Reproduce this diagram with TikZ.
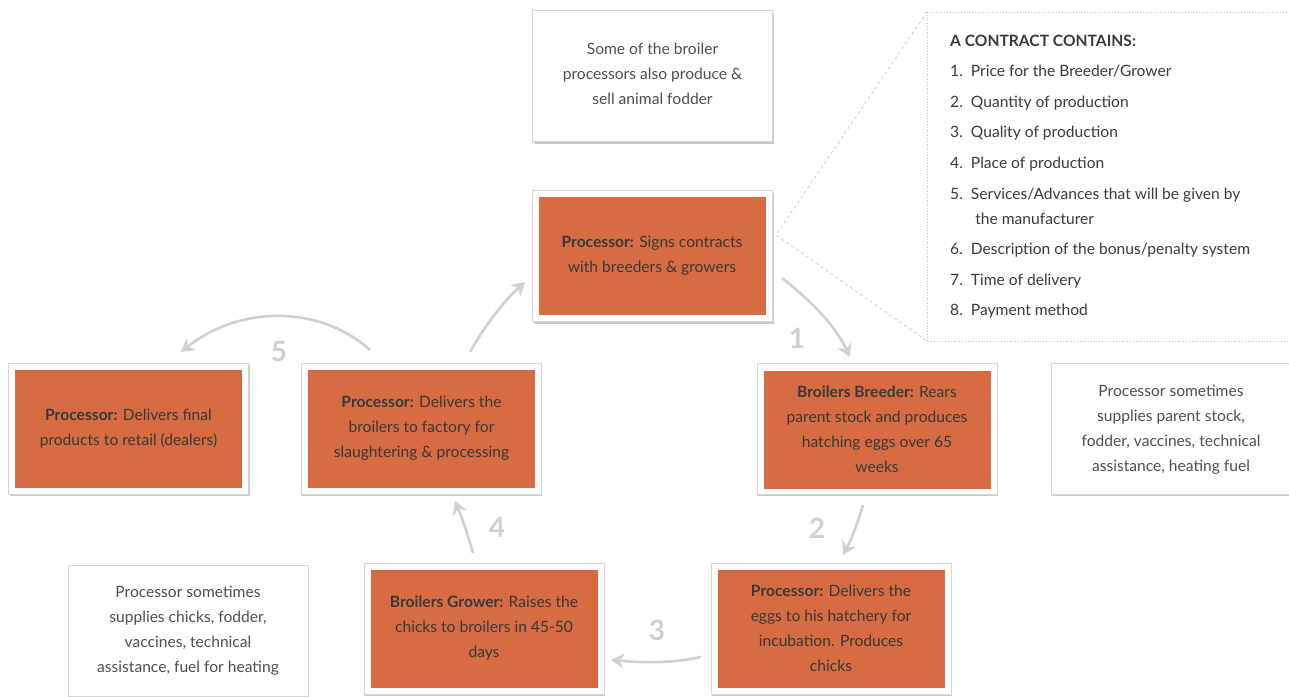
\documentclass[tikz,border=0pt]{standalone}
\usepackage{fontspec}
\setmainfont{Lato}
\usetikzlibrary{shadows,arrows.meta}
\definecolor{orng}{HTML}{D76C43}
\definecolor{txt}{HTML}{3A3A3A}
\definecolor{notetxt}{HTML}{4A5056}
\definecolor{arr}{HTML}{D0D0D0}
\definecolor{frm}{HTML}{D6D6D6}
\tikzset{
  frame/.style={draw=frm, line width=0.8pt, fill=white, minimum width=240pt, minimum height=131pt,
    drop shadow={shadow xshift=1pt, shadow yshift=-2pt, opacity=0.35, fill=black!60}},
  inner/.style={fill=orng, minimum width=227pt, minimum height=118pt, inner sep=0pt,
    align=center, text=txt, font=\fontsize{15.6}{25}\selectfont},
  notetext/.style={align=center, text=notetxt, font=\fontsize{15.6}{25}\selectfont},
  flow/.style={draw=arr, line width=2.6pt, -{Stealth[length=13pt,width=15pt]}},
  num/.style={text=arr, font=\fontsize{28}{30}\bfseries\selectfont},
}
\begin{document}
\begin{tikzpicture}[x=1pt,y=-1pt]
\useasboundingbox (0,0) rectangle (1289,696);

% contract box
\draw[draw=black!25, dotted, line width=0.8pt] (927,12) rectangle (1300,341);
\coordinate (apex) at (776,235);
\coordinate (ctl) at (927,12);
\coordinate (cbl) at (927,341);
\draw[black!20, dashed, line width=0.8pt] (ctl) -- (apex) -- (cbl);
\node[anchor=north west, text=txt, align=left, font=\fontsize{15.6}{30.6}\selectfont, inner sep=0pt] (contract) at (950,34.5)
 {\textbf{A CONTRACT CONTAINS:}\\
 1.\ \ Price for the Breeder/Grower\\
 2.\ \ Quantity of production\\
 3.\ \ Quality of production\\
 4.\ \ Place of production\\
 5.\ \ Services/Advances that will be given by\\[-5.6pt]
 \hspace*{1.1em}\ \ the manufacturer\\
 6.\ \ Description of the bonus/penalty system\\
 7.\ \ Time of delivery\\
 8.\ \ Payment method};

% top note
\node[frame] (topf) at (652.5,76) {};
\node[notetext] (top) at (652.5,74) {Some of the broiler\\processors also produce \&\\sell animal fodder};

% A
\node[frame] (af) at (652.5,256) {};
\node[inner] (a) at (652,255.5) {\textbf{Processor:} Signs contracts\\with breeders \& growers};

% B
\node[frame] (bf) at (877,428.5) {};
\node[inner] (b) at (877,429.5) {\textbf{Broilers Breeder:} Rears\\parent stock and produces\\hatching eggs over 65\\weeks};

% right note
\node[frame] (rf) at (1171,428.5) {};
\node[notetext] (r) at (1171,429.5) {Processor sometimes\\supplies parent stock,\\fodder, vaccines, technical\\assistance, heating fuel};

% C
\node[frame] (cf) at (831,628.5) {};
\node[inner] (c) at (831,628.5) {\textbf{Processor:} Delivers the\\eggs to his hatchery for\\incubation. Produces\\chicks};

% D
\node[frame] (df) at (484,628.5) {};
\node[inner] (d) at (484,628.5) {\textbf{Broilers Grower:} Raises the\\chicks to broilers in 45-50\\days};

% left note
\node[frame] (lf) at (188,630.5) {};
\node[notetext] (l) at (188,630.5) {Processor sometimes\\supplies chicks, fodder,\\vaccines, technical\\assistance, fuel for heating};

% E
\node[frame] (ef) at (421,428.5) {};
\node[inner] (e) at (421.5,428.5) {\textbf{Processor:} Delivers the\\broilers to factory for\\slaughtering \& processing};

% F
\node[frame] (ff) at (128.5,428.5) {};
\node[inner] (f) at (128.5,428.5) {\textbf{Processor:} Delivers final\\products to retail (dealers)};

% arrow endpoints
\coordinate (s1) at (782,278);  \coordinate (t1) at (850,357);
\coordinate (s2) at (863,505);  \coordinate (t2) at (843,555);
\coordinate (s3) at (701,657);  \coordinate (t3) at (611,660);
\coordinate (s4) at (473,553);  \coordinate (t4) at (455,501);
\coordinate (s5) at (370,350);  \coordinate (t5) at (181,352);
\coordinate (s6) at (470,352);  \coordinate (t6) at (525,282);

\draw[flow] (s1) .. controls (810,300) and (835,325) .. (t1);
\draw[flow] (s2) .. controls (858,522) and (852,538) .. (t2);
\draw[flow] (s3) .. controls (675,663) and (645,663) .. (t3);
\draw[flow] (s4) .. controls (468,535) and (462,518) .. (t4);
\draw[flow] (s5) .. controls (320,305) and (240,305) .. (t5);
\draw[flow] (s6) .. controls (485,325) and (505,300) .. (t6);

\node[num] (n1) at (797,338) {1};
\node[num] (n2) at (817,528) {2};
\node[num] (n3) at (657,630) {3};
\node[num] (n4) at (497,527) {4};
\node[num] (n5) at (279,351) {5};
\end{tikzpicture}
\end{document}
